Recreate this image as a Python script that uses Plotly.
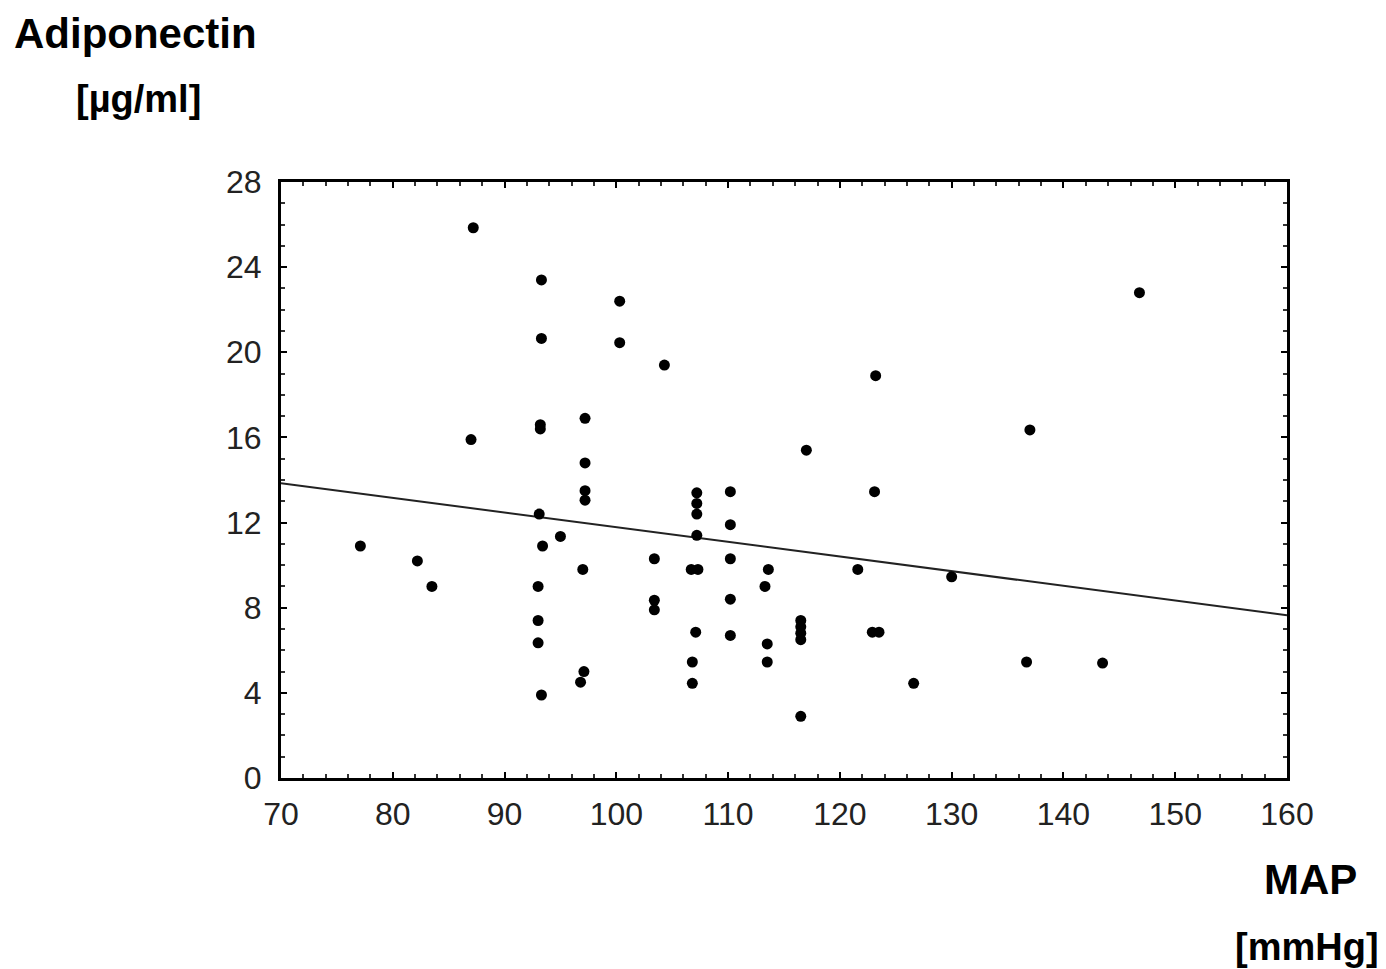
import plotly.graph_objects as go

# MAP [mmHg] vs Adiponectin [µg/ml]
map_x = [87.2, 93.3, 100.3, 93.3, 100.3, 104.3, 123.2, 146.8, 137.0, 87.0,
         93.2, 93.2, 97.2, 97.2, 97.2, 97.2, 117.0, 123.1, 110.2, 110.2,
         107.2, 107.2, 107.2, 107.2, 93.1, 95.0, 93.4, 77.1, 82.2, 83.5,
         93.0, 97.0, 93.0, 93.0, 93.3, 97.1, 96.8, 103.4, 103.4, 103.4,
         106.7, 107.3, 107.1, 106.8, 106.8, 110.2, 110.2, 110.2, 113.6, 113.3,
         113.5, 113.5, 116.5, 116.5, 116.5, 116.5, 116.5, 121.6, 122.9, 123.5,
         126.6, 130.0, 136.7, 143.5]
adipo_y = [25.85, 23.4, 22.4, 20.65, 20.45, 19.4, 18.9, 22.8, 16.35, 15.9,
           16.6, 16.4, 16.9, 14.8, 13.5, 13.05, 15.4, 13.45, 13.45, 11.9,
           13.4, 12.9, 12.4, 11.4, 12.4, 11.35, 10.9, 10.9, 10.2, 9.0,
           9.0, 9.8, 7.4, 6.35, 3.9, 5.0, 4.5, 10.3, 8.35, 7.9,
           9.8, 9.8, 6.85, 5.45, 4.45, 10.3, 8.4, 6.7, 9.8, 9.0,
           6.3, 5.45, 7.4, 7.1, 6.8, 6.5, 2.9, 9.8, 6.85, 6.85,
           4.45, 9.45, 5.45, 5.4]

# regression line end points
line_x = [70, 160]
line_y = [13.85, 7.65]

x_ticks = [70, 80, 90, 100, 110, 120, 130, 140, 150, 160]
y_ticks = [0, 4, 8, 12, 16, 20, 24, 28]

fig = go.Figure()
fig.add_trace(go.Scatter(x=line_x, y=line_y, mode="lines",
                         line=dict(color="#222", width=2), showlegend=False))
fig.add_trace(go.Scatter(x=map_x, y=adipo_y, mode="markers",
                         marker=dict(color="black", size=11), showlegend=False))

tickfont = dict(family="Liberation Sans, Arial, sans-serif", size=32, color="#222")
fig.update_xaxes(range=[70, 160], tickvals=x_ticks, ticktext=[str(v) for v in x_ticks],
                 showgrid=False, zeroline=False, showline=True, linecolor="black",
                 linewidth=3, mirror="ticks", ticks="inside", ticklen=6,
                 tickcolor="black", tickwidth=2, tickfont=tickfont,
                 ticklabelstandoff=6,
                 minor=dict(dtick=2, tick0=70, ticks="inside", ticklen=4,
                            tickcolor="#333", tickwidth=1.5))
fig.update_yaxes(range=[0, 28], tickvals=y_ticks, ticktext=[str(v) for v in y_ticks],
                 showgrid=False, zeroline=False, showline=True, linecolor="black",
                 linewidth=3, mirror="ticks", ticks="inside", ticklen=6,
                 tickcolor="black", tickwidth=2, tickfont=tickfont,
                 ticklabelstandoff=10,
                 minor=dict(dtick=1, tick0=0, ticks="inside", ticklen=4,
                            tickcolor="#333", tickwidth=1.5))

bold = dict(family="Liberation Sans, Arial, sans-serif", size=42, color="black")
bold2 = dict(family="Liberation Sans, Arial, sans-serif", size=38, color="black")
ann = [
    dict(text="<b>Adiponectin</b>", x=-0.266, y=1.290, xanchor="left", yanchor="top", font=bold),
    dict(text="<b>[µg/ml]</b>", x=-0.2048, y=1.139, xanchor="left", yanchor="middle", font=bold2),
    dict(text="<b>MAP</b>", x=1.0706, y=-0.1695, xanchor="right", yanchor="middle", font=bold),
    dict(text="<b>[mmHg]</b>", x=1.0924, y=-0.2836, xanchor="right", yanchor="middle", font=bold2),
]
for a in ann:
    a.update(xref="paper", yref="paper", showarrow=False, borderpad=0)

fig.update_layout(width=1386, height=969, plot_bgcolor="white", paper_bgcolor="white",
                  margin=dict(l=273, r=107, t=174, b=199, autoexpand=False),
                  annotations=ann)
fig.write_html("out.html")
